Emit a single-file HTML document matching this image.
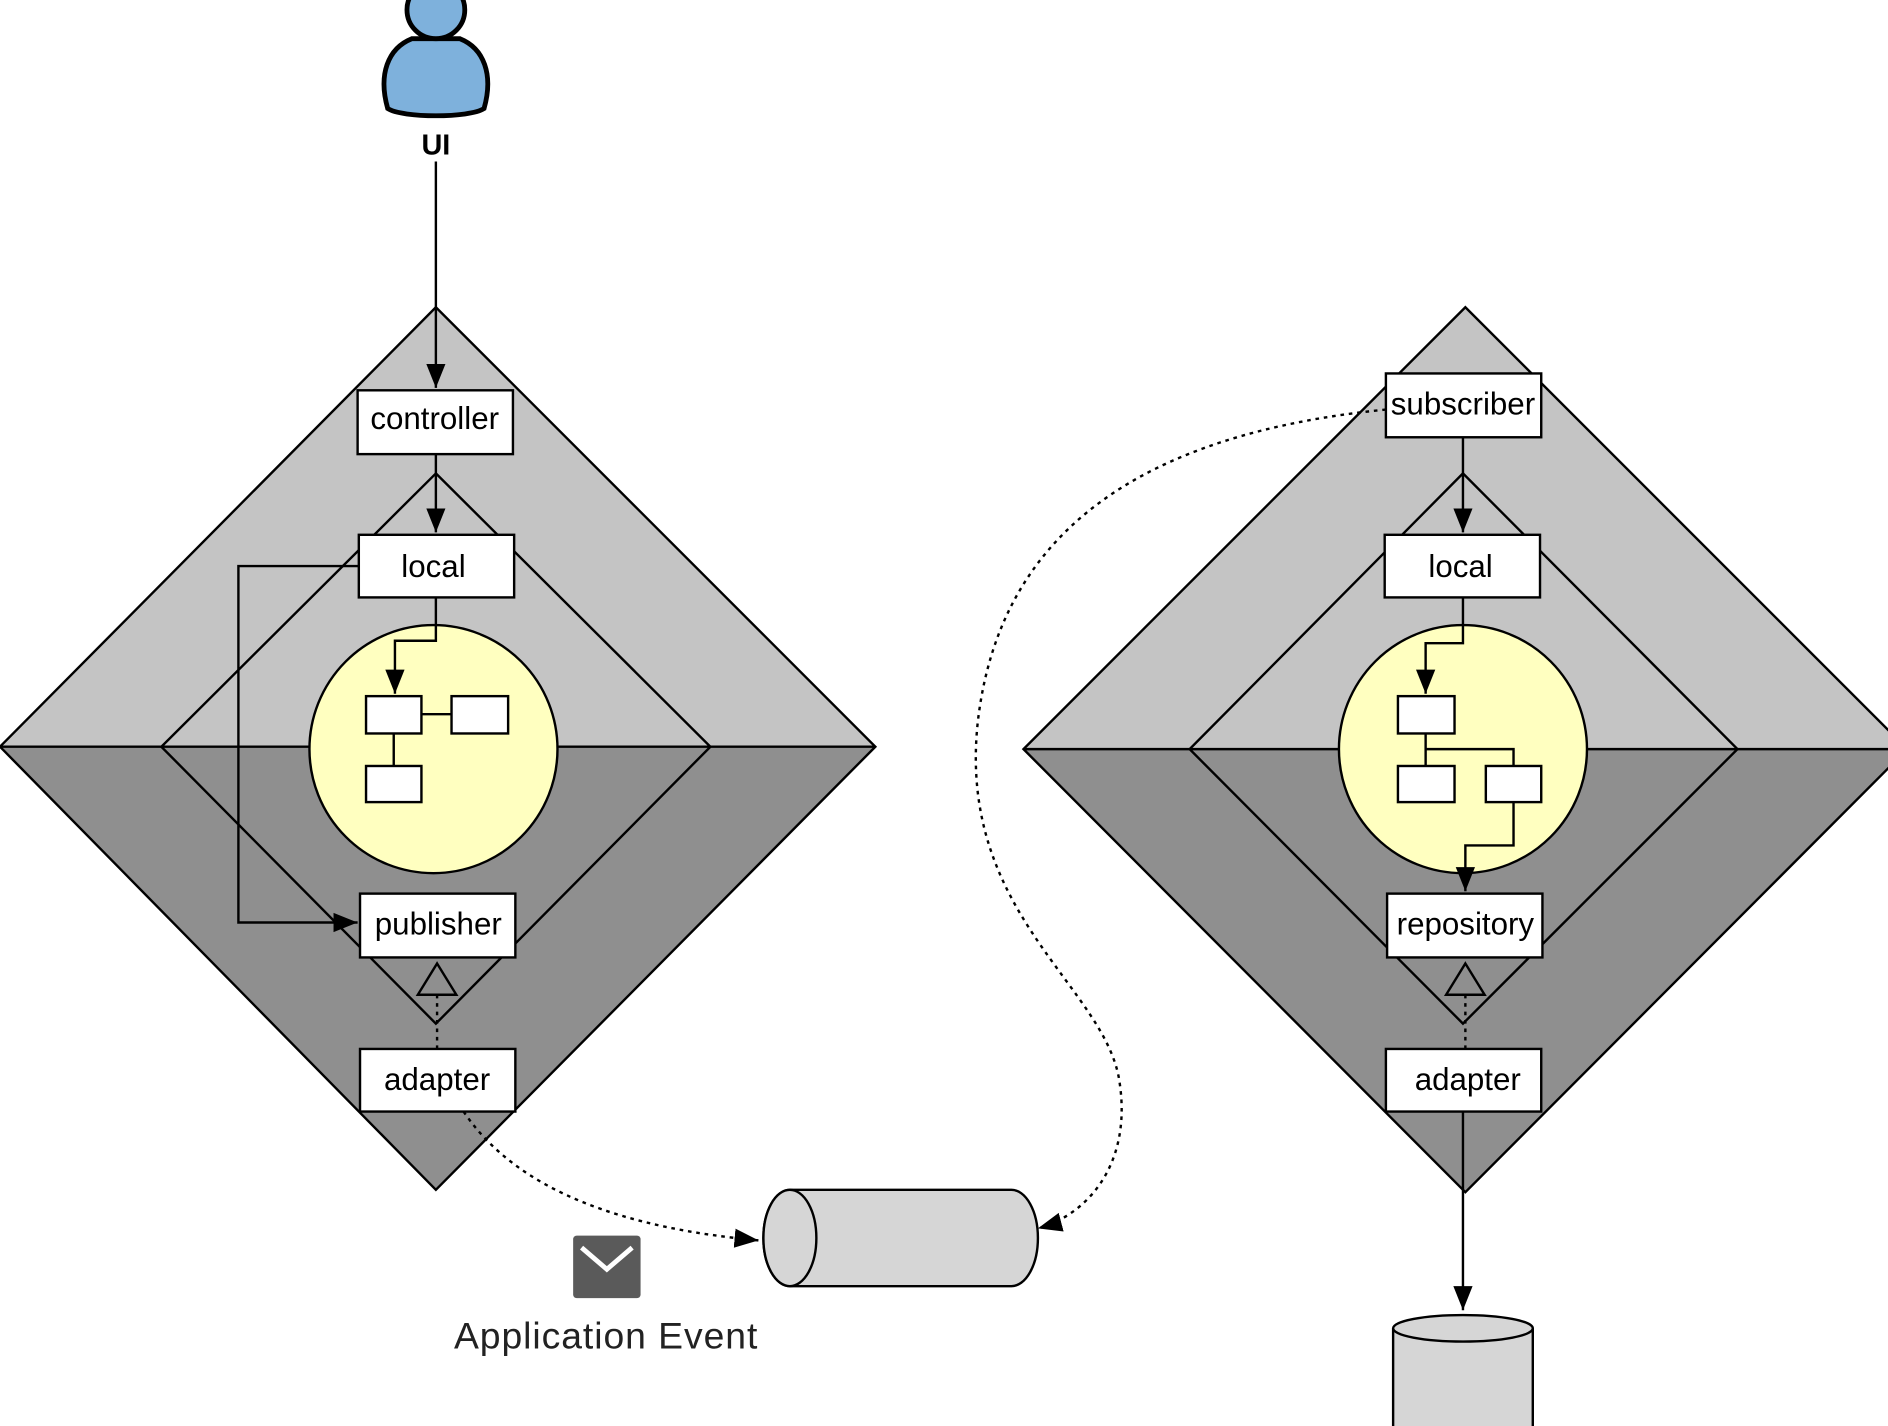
<!DOCTYPE html>
<html><head><meta charset="utf-8"><style>
html,body{margin:0;padding:0;background:#fff;}
svg{display:block;}
text{font-family:"Liberation Sans",sans-serif;}
</style></head><body>
<svg width="1888" height="1426" viewBox="0 0 1568 1184" xmlns="http://www.w3.org/2000/svg">
<defs>
<marker id="arL" viewBox="0 0 10 10" refX="10" refY="5" markerWidth="20" markerHeight="20" orient="auto" markerUnits="userSpaceOnUse"><path d="M0,1 L10,5 L0,9 z" fill="#000"/></marker>
</defs>
<rect width="1568" height="1184" fill="#fff"/>

<!-- LEFT DIAMOND -->
<polygon points="362,255 727,620 0,620" fill="#c4c4c4"/>
<polygon points="0,620 727,620 362,988" fill="#8f8f8f"/>
<polygon points="362,255 727,620 362,988 0,620" fill="none" stroke="#000" stroke-width="2"/>
<line x1="0" y1="620" x2="727" y2="620" stroke="#000" stroke-width="2"/>
<polygon points="362,393 590,620 362,850 134,620" fill="none" stroke="#000" stroke-width="2"/>
<circle cx="360" cy="622" r="103" fill="#ffffc0" stroke="#000" stroke-width="2"/>

<!-- RIGHT DIAMOND -->
<polygon points="1217,255 1584,622 850,622" fill="#c4c4c4"/>
<polygon points="850,622 1584,622 1217,990" fill="#8f8f8f"/>
<polygon points="1217,255 1584,622 1217,990 850,622" fill="none" stroke="#000" stroke-width="2"/>
<line x1="850" y1="622" x2="1568" y2="622" stroke="#000" stroke-width="2"/>
<polygon points="1215,393 1443,622 1215,850 988,622" fill="none" stroke="#000" stroke-width="2"/>
<circle cx="1215" cy="622" r="103" fill="#ffffc0" stroke="#000" stroke-width="2"/>

<!-- UI person -->
<path d="M322,90 C314,62 322,40 342,32 L382,32 C402,40 410,62 402,90 C390,98 334,98 322,90 Z" fill="#7eb1dc" stroke="#000" stroke-width="4"/>
<circle cx="362" cy="8" r="24" fill="#7eb1dc" stroke="#000" stroke-width="4"/>
<text x="362" y="128" font-size="24" font-weight="bold" text-anchor="middle">UI</text>
<line x1="362" y1="134" x2="362" y2="322" stroke="#000" stroke-width="2" marker-end="url(#arL)"/>

<!-- left connectors -->
<line x1="362" y1="377" x2="362" y2="442" stroke="#000" stroke-width="2" marker-end="url(#arL)"/>
<path d="M362,496 L362,532 L328,532 L328,576" fill="none" stroke="#000" stroke-width="2" marker-end="url(#arL)"/>
<path d="M298,470 L198,470 L198,766 L297,766" fill="none" stroke="#000" stroke-width="2" marker-end="url(#arL)"/>
<line x1="350" y1="593" x2="375" y2="593" stroke="#000" stroke-width="2"/>
<line x1="327" y1="609" x2="327" y2="636" stroke="#000" stroke-width="2"/>
<rect x="304" y="578" width="46" height="31" fill="#fff" stroke="#000" stroke-width="2"/>
<rect x="375" y="578" width="47" height="31" fill="#fff" stroke="#000" stroke-width="2"/>
<rect x="304" y="636" width="46" height="30" fill="#fff" stroke="#000" stroke-width="2"/>
<polygon points="363,800 379,826 347,826" fill="none" stroke="#000" stroke-width="2"/>
<line x1="363" y1="826" x2="363" y2="871" stroke="#000" stroke-width="2" stroke-dasharray="3,4"/>

<!-- right connectors -->
<line x1="1215" y1="363" x2="1215" y2="442" stroke="#000" stroke-width="2" marker-end="url(#arL)"/>
<path d="M1215,496 L1215,534 L1184,534 L1184,576" fill="none" stroke="#000" stroke-width="2" marker-end="url(#arL)"/>
<path d="M1184,609 L1184,622 L1257,622 L1257,636 M1184,622 L1184,636" fill="none" stroke="#000" stroke-width="2"/>
<path d="M1257,666 L1257,702 L1217,702 L1217,740" fill="none" stroke="#000" stroke-width="2" marker-end="url(#arL)"/>
<rect x="1161" y="578" width="47" height="31" fill="#fff" stroke="#000" stroke-width="2"/>
<rect x="1161" y="636" width="47" height="30" fill="#fff" stroke="#000" stroke-width="2"/>
<rect x="1234" y="636" width="46" height="30" fill="#fff" stroke="#000" stroke-width="2"/>
<polygon points="1217,800 1233,826 1201,826" fill="none" stroke="#000" stroke-width="2"/>
<line x1="1217" y1="826" x2="1217" y2="871" stroke="#000" stroke-width="2" stroke-dasharray="3,4"/>
<line x1="1215" y1="923" x2="1215" y2="1088" stroke="#000" stroke-width="2" marker-end="url(#arL)"/>

<!-- dotted curves -->
<path d="M385,923 C430,990 520,1020 630,1030" fill="none" stroke="#000" stroke-width="2" stroke-dasharray="3,4" marker-end="url(#arL)"/>
<path d="M1151,340 C950,360 830,440 812,600 C795,760 920,820 930,900 C940,970 900,1010 862,1020" fill="none" stroke="#000" stroke-width="2" stroke-dasharray="3,4" marker-end="url(#arL)"/>

<!-- boxes -->
<g font-size="26" text-anchor="middle" fill="#000">
<rect x="297" y="324" width="129" height="53" fill="#fff" stroke="#000" stroke-width="2"/>
<text x="361" y="356">controller</text>
<rect x="298" y="444" width="129" height="52" fill="#fff" stroke="#000" stroke-width="2"/>
<text x="360" y="479">local</text>
<rect x="299" y="742" width="129" height="53" fill="#fff" stroke="#000" stroke-width="2"/>
<text x="364" y="776">publisher</text>
<rect x="299" y="871" width="129" height="52" fill="#fff" stroke="#000" stroke-width="2"/>
<text x="363" y="905">adapter</text>

<rect x="1151" y="310" width="129" height="53" fill="#fff" stroke="#000" stroke-width="2"/>
<text x="1215" y="344">subscriber</text>
<rect x="1150" y="444" width="129" height="52" fill="#fff" stroke="#000" stroke-width="2"/>
<text x="1213" y="479">local</text>
<rect x="1152" y="742" width="129" height="53" fill="#fff" stroke="#000" stroke-width="2"/>
<text x="1217" y="776">repository</text>
<rect x="1151" y="871" width="129" height="52" fill="#fff" stroke="#000" stroke-width="2"/>
<text x="1219" y="905">adapter</text>
</g>

<!-- horizontal cylinder -->
<path d="M656,988 L840,988 A22,40 0 0 1 840,1068 L656,1068 A22,40 0 0 1 656,988 Z" fill="#d6d6d6" stroke="#000" stroke-width="2"/>
<ellipse cx="656" cy="1028" rx="22" ry="40" fill="#d6d6d6" stroke="#000" stroke-width="2"/>

<!-- db cylinder -->
<path d="M1157,1103 L1157,1190 L1273,1190 L1273,1103" fill="#d6d6d6" stroke="#000" stroke-width="2"/>
<ellipse cx="1215" cy="1103" rx="58" ry="11" fill="#d6d6d6" stroke="#000" stroke-width="2"/>

<!-- mail icon -->
<rect x="476" y="1026" width="56" height="52" rx="3" fill="#5a5a5a"/>
<path d="M483,1036 L504,1054 L525,1036" fill="none" stroke="#fff" stroke-width="4"/>
<text x="503" y="1120" font-size="31" text-anchor="middle" fill="#222" textLength="252">Application Event</text>
</svg>
</body></html>
